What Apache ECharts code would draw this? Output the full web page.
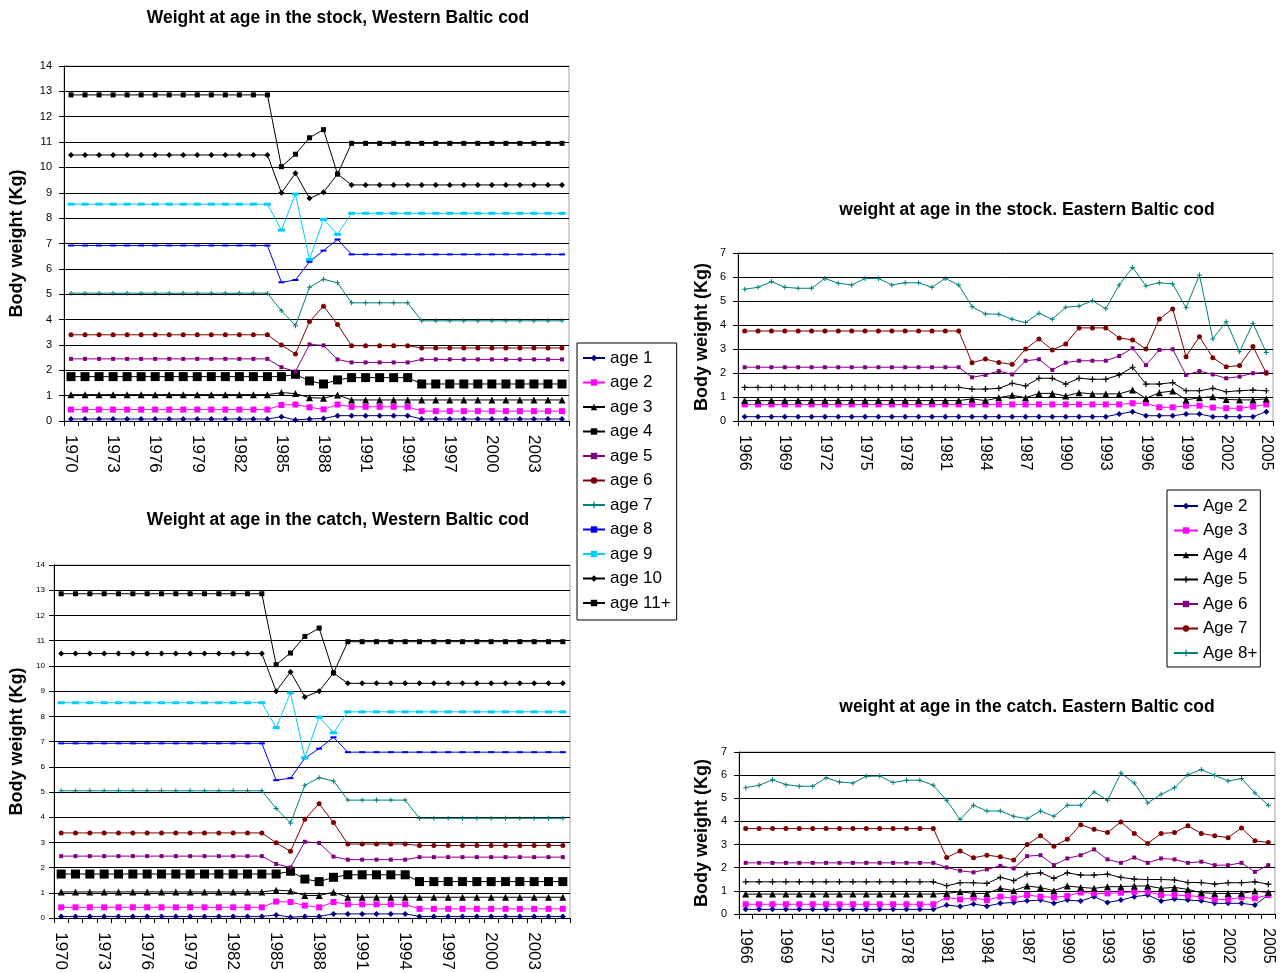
<!DOCTYPE html>
<html>
<head>
<meta charset="utf-8">
<script src="https://cdn.jsdelivr.net/npm/echarts@6/dist/echarts.min.js"></script>
<style>
html, body { margin: 0; padding: 0; background: #ffffff; }
#main { width: 1282px; height: 973px; }
</style>
</head>
<body>
<div id="main"></div>
<script>
// ---- Categories ----
const westYears = ['1970','1971','1972','1973','1974','1975','1976','1977','1978','1979',
  '1980','1981','1982','1983','1984','1985','1986','1987','1988','1989',
  '1990','1991','1992','1993','1994','1995','1996','1997','1998','1999',
  '2000','2001','2002','2003','2004','2005'];
const eastYears = ['1966','1967','1968','1969','1970','1971','1972','1973','1974','1975',
  '1976','1977','1978','1979','1980','1981','1982','1983','1984','1985',
  '1986','1987','1988','1989','1990','1991','1992','1993','1994','1995',
  '1996','1997','1998','1999','2000','2001','2002','2003','2004','2005'];

const westNames = ['age 1','age 2','age 3','age 4','age 5','age 6','age 7','age 8','age 9','age 10','age 11+'];
const eastNames = ['Age 2','Age 3','Age 4','Age 5','Age 6','Age 7','Age 8+'];

// ---- Western Baltic cod, weight at age in the stock (kg), 1970-2005 ----
const stockW1 = [0.08,0.08,0.08,0.08,0.08,0.08,0.08,0.08,0.08,0.08,0.08,0.08,0.08,0.08,0.08,
  0.17,0.04,0.08,0.10,0.21,0.21,0.21,0.21,0.21,0.21,
  0.08,0.08,0.08,0.08,0.08,0.08,0.08,0.08,0.08,0.08,0.08];
const stockW2 = [0.45,0.45,0.45,0.45,0.45,0.45,0.45,0.45,0.45,0.45,0.45,0.45,0.45,0.45,0.45,
  0.63,0.65,0.54,0.46,0.65,0.56,0.56,0.56,0.56,0.56,
  0.39,0.39,0.39,0.39,0.39,0.39,0.39,0.39,0.39,0.39,0.39];
const stockW3 = [1.04,1.04,1.04,1.04,1.04,1.04,1.04,1.04,1.04,1.04,1.04,1.04,1.04,1.04,1.04,
  1.12,1.08,0.92,0.90,1.03,0.83,0.83,0.83,0.83,0.83,
  0.83,0.83,0.83,0.83,0.83,0.83,0.83,0.83,0.83,0.83,0.83];
const stockW4 = [1.75,1.75,1.75,1.75,1.75,1.75,1.75,1.75,1.75,1.75,1.75,1.75,1.75,1.75,1.75,
  1.75,1.84,1.58,1.46,1.62,1.71,1.71,1.71,1.71,1.71,
  1.46,1.46,1.46,1.46,1.46,1.46,1.46,1.46,1.46,1.46,1.46];
const stockW5 = [2.45,2.45,2.45,2.45,2.45,2.45,2.45,2.45,2.45,2.45,2.45,2.45,2.45,2.45,2.45,
  2.12,1.95,3.02,2.98,2.43,2.31,2.31,2.31,2.31,2.31,
  2.43,2.43,2.43,2.43,2.43,2.43,2.43,2.43,2.43,2.43,2.43];
const stockW6 = [3.40,3.40,3.40,3.40,3.40,3.40,3.40,3.40,3.40,3.40,3.40,3.40,3.40,3.40,3.40,
  3.00,2.64,3.92,4.53,3.81,2.97,2.97,2.97,2.97,2.97,
  2.88,2.88,2.88,2.88,2.88,2.88,2.88,2.88,2.88,2.88,2.88];
const stockW7 = [5.04,5.04,5.04,5.04,5.04,5.04,5.04,5.04,5.04,5.04,5.04,5.04,5.04,5.04,5.04,
  4.35,3.76,5.27,5.59,5.45,4.66,4.66,4.66,4.66,4.66,
  3.95,3.95,3.95,3.95,3.95,3.95,3.95,3.95,3.95,3.95,3.95];
const stockW8 = [6.92,6.92,6.92,6.92,6.92,6.92,6.92,6.92,6.92,6.92,6.92,6.92,6.92,6.92,6.92,
  5.47,5.56,6.28,6.72,7.16,6.57,6.57,6.57,6.57,6.57,
  6.57,6.57,6.57,6.57,6.57,6.57,6.57,6.57,6.57,6.57,6.57];
const stockW9 = [8.55,8.55,8.55,8.55,8.55,8.55,8.55,8.55,8.55,8.55,8.55,8.55,8.55,8.55,8.55,
  7.53,8.95,6.37,7.95,7.36,8.19,8.19,8.19,8.19,8.19,
  8.19,8.19,8.19,8.19,8.19,8.19,8.19,8.19,8.19,8.19,8.19];
const stockW10 = [10.49,10.49,10.49,10.49,10.49,10.49,10.49,10.49,10.49,10.49,10.49,10.49,10.49,10.49,10.49,
  9.00,9.77,8.78,9.02,9.74,9.31,9.31,9.31,9.31,9.31,
  9.31,9.31,9.31,9.31,9.31,9.31,9.31,9.31,9.31,9.31,9.31];
const stockW11 = [12.86,12.86,12.86,12.86,12.86,12.86,12.86,12.86,12.86,12.86,12.86,12.86,12.86,12.86,12.86,
  10.03,10.52,11.17,11.49,9.74,10.95,10.95,10.95,10.95,10.95,
  10.95,10.95,10.95,10.95,10.95,10.95,10.95,10.95,10.95,10.95,10.95];

// ---- Western Baltic cod, weight at age in the catch (kg), 1970-2005 ----
const catchW1 = [0.07,0.07,0.07,0.07,0.07,0.07,0.07,0.07,0.07,0.07,0.07,0.07,0.07,0.07,0.07,
  0.13,0.04,0.07,0.07,0.17,0.17,0.17,0.17,0.17,0.17,
  0.07,0.07,0.07,0.07,0.07,0.07,0.07,0.07,0.07,0.07,0.07];
const catchW2 = [0.43,0.43,0.43,0.43,0.43,0.43,0.43,0.43,0.43,0.43,0.43,0.43,0.43,0.43,0.43,
  0.66,0.64,0.50,0.43,0.64,0.55,0.55,0.55,0.55,0.55,
  0.37,0.37,0.37,0.37,0.37,0.37,0.37,0.37,0.37,0.37,0.37];
const catchW3 = [1.04,1.04,1.04,1.04,1.04,1.04,1.04,1.04,1.04,1.04,1.04,1.04,1.04,1.04,1.04,
  1.11,1.08,0.90,0.90,1.03,0.83,0.83,0.83,0.83,0.83,
  0.83,0.83,0.83,0.83,0.83,0.83,0.83,0.83,0.83,0.83,0.83];
const catchW4 = [1.75,1.75,1.75,1.75,1.75,1.75,1.75,1.75,1.75,1.75,1.75,1.75,1.75,1.75,1.75,
  1.75,1.86,1.55,1.45,1.62,1.72,1.72,1.72,1.72,1.72,
  1.45,1.45,1.45,1.45,1.45,1.45,1.45,1.45,1.45,1.45,1.45];
const catchW5 = [2.46,2.46,2.46,2.46,2.46,2.46,2.46,2.46,2.46,2.46,2.46,2.46,2.46,2.46,2.46,
  2.15,2.01,3.03,2.98,2.44,2.32,2.32,2.32,2.32,2.32,
  2.42,2.42,2.42,2.42,2.42,2.42,2.42,2.42,2.42,2.42,2.42];
const catchW6 = [3.38,3.38,3.38,3.38,3.38,3.38,3.38,3.38,3.38,3.38,3.38,3.38,3.38,3.38,3.38,
  2.99,2.65,3.92,4.54,3.79,2.94,2.94,2.94,2.94,2.94,
  2.88,2.88,2.88,2.88,2.88,2.88,2.88,2.88,2.88,2.88,2.88];
const catchW7 = [5.05,5.05,5.05,5.05,5.05,5.05,5.05,5.05,5.05,5.05,5.05,5.05,5.05,5.05,5.05,
  4.35,3.77,5.27,5.57,5.44,4.68,4.68,4.68,4.68,4.68,
  3.96,3.96,3.96,3.96,3.96,3.96,3.96,3.96,3.96,3.96,3.96];
const catchW8 = [6.93,6.93,6.93,6.93,6.93,6.93,6.93,6.93,6.93,6.93,6.93,6.93,6.93,6.93,6.93,
  5.47,5.55,6.34,6.72,7.17,6.58,6.58,6.58,6.58,6.58,
  6.58,6.58,6.58,6.58,6.58,6.58,6.58,6.58,6.58,6.58,6.58];
const catchW9 = [8.54,8.54,8.54,8.54,8.54,8.54,8.54,8.54,8.54,8.54,8.54,8.54,8.54,8.54,8.54,
  7.55,8.93,6.36,7.97,7.35,8.18,8.18,8.18,8.18,8.18,
  8.18,8.18,8.18,8.18,8.18,8.18,8.18,8.18,8.18,8.18,8.18];
const catchW10 = [10.49,10.49,10.49,10.49,10.49,10.49,10.49,10.49,10.49,10.49,10.49,10.49,10.49,10.49,10.49,
  9.00,9.76,8.77,9.00,9.72,9.31,9.31,9.31,9.31,9.31,
  9.31,9.31,9.31,9.31,9.31,9.31,9.31,9.31,9.31,9.31,9.31];
const catchW11 = [12.86,12.86,12.86,12.86,12.86,12.86,12.86,12.86,12.86,12.86,12.86,12.86,12.86,12.86,12.86,
  10.05,10.51,11.17,11.50,9.72,10.96,10.96,10.96,10.96,10.96,
  10.96,10.96,10.96,10.96,10.96,10.96,10.96,10.96,10.96,10.96,10.96];

// ---- Eastern Baltic cod, weight at age in the stock (kg), 1966-2005 ----
const stockE2 = [0.18,0.18,0.18,0.18,0.18,0.18,0.18,0.18,0.18,0.18,0.18,0.18,0.18,0.18,0.18,0.18,0.18,0.18,0.18,0.18,
  0.18,0.18,0.18,0.18,0.18,0.18,0.18,0.18,0.29,0.39,0.22,0.22,0.22,0.29,0.29,0.18,0.18,0.18,0.18,0.39];
const stockE3 = [0.69,0.69,0.69,0.69,0.69,0.69,0.69,0.69,0.69,0.69,0.69,0.69,0.69,0.69,0.69,0.69,0.69,0.69,0.69,0.69,
  0.69,0.69,0.69,0.69,0.69,0.69,0.69,0.69,0.69,0.74,0.74,0.57,0.57,0.64,0.64,0.56,0.53,0.53,0.60,0.69];
const stockE4 = [0.85,0.85,0.85,0.85,0.85,0.85,0.85,0.85,0.85,0.85,0.85,0.85,0.85,0.85,0.85,0.85,0.85,0.92,0.85,0.97,
  1.07,0.97,1.15,1.15,1.04,1.18,1.13,1.13,1.13,1.29,0.94,1.18,1.25,0.88,0.97,1.01,0.90,0.88,0.88,0.92];
const stockE5 = [1.40,1.40,1.40,1.40,1.40,1.40,1.40,1.40,1.40,1.40,1.40,1.40,1.40,1.40,1.40,1.40,1.40,1.33,1.33,1.36,
  1.57,1.46,1.78,1.78,1.54,1.78,1.74,1.74,1.92,2.24,1.54,1.54,1.60,1.26,1.26,1.36,1.22,1.26,1.29,1.26];
const stockE6 = [2.24,2.24,2.24,2.24,2.24,2.24,2.24,2.24,2.24,2.24,2.24,2.24,2.24,2.24,2.24,2.24,2.24,1.82,1.92,2.08,
  1.94,2.51,2.57,2.13,2.43,2.51,2.51,2.51,2.71,3.03,2.33,2.96,2.99,1.92,2.08,1.94,1.78,1.85,1.99,2.03];
const stockE7 = [3.75,3.75,3.75,3.75,3.75,3.75,3.75,3.75,3.75,3.75,3.75,3.75,3.75,3.75,3.75,3.75,3.75,2.43,2.58,2.44,
  2.36,3.00,3.42,2.96,3.21,3.88,3.88,3.88,3.46,3.38,3.00,4.25,4.67,2.68,3.51,2.64,2.26,2.31,3.10,1.99];
const stockE8 = [5.49,5.57,5.81,5.57,5.53,5.53,5.94,5.74,5.67,5.94,5.94,5.67,5.76,5.76,5.57,5.94,5.67,4.76,4.46,4.45,
  4.24,4.10,4.49,4.24,4.74,4.79,5.01,4.68,5.67,6.40,5.63,5.76,5.71,4.72,6.08,3.42,4.14,2.89,4.07,2.85];

// ---- Eastern Baltic cod, weight at age in the catch (kg), 1966-2005 ----
const catchE2 = [0.20,0.20,0.20,0.20,0.20,0.20,0.20,0.20,0.20,0.20,0.20,0.20,0.20,0.20,0.20,0.39,0.32,0.43,0.34,0.46,
  0.50,0.57,0.60,0.46,0.60,0.56,0.75,0.50,0.60,0.75,0.82,0.56,0.65,0.60,0.57,0.46,0.46,0.46,0.39,0.82];
const catchE3 = [0.42,0.42,0.42,0.42,0.42,0.42,0.42,0.42,0.42,0.42,0.42,0.42,0.42,0.42,0.42,0.72,0.63,0.70,0.60,0.75,
  0.68,0.82,0.75,0.72,0.78,0.93,0.89,0.89,0.92,0.96,0.96,0.82,0.82,0.79,0.75,0.63,0.63,0.72,0.68,0.82];
const catchE4 = [0.86,0.86,0.86,0.86,0.86,0.86,0.86,0.86,0.86,0.86,0.86,0.86,0.86,0.86,0.86,0.89,0.96,0.89,0.89,1.11,
  1.01,1.21,1.14,1.01,1.21,1.15,1.11,1.18,1.18,1.21,1.21,1.11,1.15,1.06,0.92,0.89,0.89,0.89,0.99,0.93];
const catchE5 = [1.39,1.39,1.39,1.39,1.39,1.39,1.39,1.39,1.39,1.39,1.39,1.39,1.39,1.39,1.39,1.22,1.35,1.35,1.32,1.58,
  1.44,1.72,1.78,1.54,1.78,1.68,1.68,1.72,1.58,1.51,1.49,1.49,1.47,1.36,1.36,1.29,1.35,1.35,1.39,1.29];
const catchE6 = [2.21,2.21,2.21,2.21,2.21,2.21,2.21,2.21,2.21,2.21,2.21,2.21,2.21,2.21,2.21,2.01,1.87,1.80,1.93,2.08,
  1.97,2.50,2.54,2.11,2.40,2.54,2.79,2.36,2.21,2.44,2.21,2.40,2.36,2.21,2.26,2.11,2.11,2.21,1.82,2.11];
const catchE7 = [3.69,3.69,3.69,3.69,3.69,3.69,3.69,3.69,3.69,3.69,3.69,3.69,3.69,3.69,3.69,2.44,2.72,2.43,2.54,2.47,
  2.33,3.00,3.38,2.93,3.23,3.86,3.66,3.52,3.98,3.48,3.05,3.48,3.52,3.81,3.48,3.38,3.30,3.72,3.16,3.09];
const catchE8 = [5.46,5.56,5.80,5.59,5.52,5.52,5.89,5.70,5.66,5.95,5.96,5.68,5.78,5.78,5.56,4.91,4.08,4.70,4.45,4.45,
  4.22,4.12,4.45,4.22,4.70,4.70,5.27,4.91,6.09,5.66,4.80,5.17,5.45,6.02,6.24,5.99,5.75,5.85,5.23,4.70];

// ---- Styling ----
const FONT = '"Liberation Sans", Arial, sans-serif';
const PLUS = 'path://M4,0H6V4H10V6H6V10H4V6H0V4H4Z';

// marker / colour per western age class
const westStyle = [
  { color: '#000080', symbol: 'diamond', size: 6 },
  { color: '#FF00FF', symbol: 'rect', size: 6 },
  { color: '#000000', symbol: 'triangle', size: 7 },
  { color: '#000000', symbol: 'rect', size: 9 },
  { color: '#800080', symbol: 'rect', size: 4 },
  { color: '#800000', symbol: 'circle', size: 5 },
  { color: '#008080', symbol: PLUS, size: 5 },
  { color: '#0000FF', symbol: 'rect', size: [6, 2] },
  { color: '#00CCFF', symbol: 'rect', size: [7, 3] },
  { color: '#000000', symbol: 'diamond', size: 6 },
  { color: '#000000', symbol: 'rect', size: 5 }
];
const eastStyle = [
  { color: '#000080', symbol: 'diamond', size: 6 },
  { color: '#FF00FF', symbol: 'rect', size: 6 },
  { color: '#000000', symbol: 'triangle', size: 7 },
  { color: '#000000', symbol: PLUS, size: 6 },
  { color: '#800080', symbol: 'rect', size: 4 },
  { color: '#800000', symbol: 'circle', size: 5 },
  { color: '#008080', symbol: PLUS, size: 5 }
];

const westStock = [stockW1, stockW2, stockW3, stockW4, stockW5, stockW6, stockW7, stockW8, stockW9, stockW10, stockW11];
const westCatch = [catchW1, catchW2, catchW3, catchW4, catchW5, catchW6, catchW7, catchW8, catchW9, catchW10, catchW11];
const eastStock = [stockE2, stockE3, stockE4, stockE5, stockE6, stockE7, stockE8];
const eastCatch = [catchE2, catchE3, catchE4, catchE5, catchE6, catchE7, catchE8];

function makeSeries(names, styles, values, idx) {
  return names.map((name, i) => ({
    name: name,
    type: 'line',
    xAxisIndex: idx,
    yAxisIndex: idx,
    data: values[i],
    symbol: styles[i].symbol,
    symbolSize: styles[i].size,
    showAllSymbol: true,
    lineStyle: { color: styles[i].color, width: 1 },
    itemStyle: { color: styles[i].color },
    emphasis: { disabled: true },
    animation: false
  }));
}

function xAxis(idx, cats, fontSize) {
  return {
    type: 'category', gridIndex: idx, data: cats, boundaryGap: true,
    axisLine: { lineStyle: { color: '#000', width: 1 } },
    axisTick: { show: true, interval: 0, length: 5, lineStyle: { color: '#000' } },
    axisLabel: { interval: 2, rotate: -90, margin: 14, color: '#000', fontSize: fontSize, fontFamily: FONT },
    splitLine: { show: false }
  };
}
function yAxis(idx, max, labelSize, labelMargin, nameGap) {
  return {
    type: 'value', gridIndex: idx, min: 0, max: max, interval: 1,
    name: 'Body weight (Kg)',
    nameLocation: 'middle', nameRotate: 90, nameGap: nameGap,
    nameTextStyle: { fontSize: 18, fontWeight: 'bold', color: '#000', fontFamily: FONT },
    axisLine: { show: true, lineStyle: { color: '#000', width: 1 } },
    axisTick: { show: true, length: 5, lineStyle: { color: '#000' } },
    axisLabel: { color: '#000', fontSize: labelSize, margin: labelMargin, fontFamily: FONT },
    splitLine: { show: true, lineStyle: { color: '#000', width: 1 } }
  };
}

function title(text, x, y) {
  return {
    type: 'text', x: x, y: y,
    style: { text: text, textAlign: 'center', textVerticalAlign: 'middle',
      font: 'bold 17.5px ' + FONT, fill: '#000' }
  };
}

const chart = echarts.init(document.getElementById('main'), null, { renderer: 'canvas' });
chart.setOption({
  animation: false,
  backgroundColor: '#ffffff',
  grid: [
    { left: 64, top: 66, width: 505, height: 355, show: true, borderColor: '#a0a0a0', borderWidth: 1 },
    { left: 54, top: 565, width: 516, height: 354, show: true, borderColor: '#a0a0a0', borderWidth: 1 },
    { left: 738, top: 253, width: 535, height: 168, show: true, borderColor: '#a0a0a0', borderWidth: 1 },
    { left: 739, top: 752, width: 536, height: 162, show: true, borderColor: '#a0a0a0', borderWidth: 1 }
  ],
  xAxis: [
    xAxis(0, westYears, 17),
    xAxis(1, westYears, 17),
    xAxis(2, eastYears, 16),
    xAxis(3, eastYears, 16)
  ],
  yAxis: [
    yAxis(0, 14, 11, 12, 38),
    yAxis(1, 14, 8, 9, 28),
    yAxis(2, 7, 11, 12, 27),
    yAxis(3, 7, 11, 12, 28)
  ],
  legend: [
    {
      data: westNames, orient: 'vertical', left: 577, top: 343,
      padding: [6.5, 6, 8.5, 5], itemWidth: 22, itemHeight: 8, itemGap: 7.5,
      borderColor: '#000', borderWidth: 1, backgroundColor: '#fff',
      selectedMode: false,
      textStyle: { fontSize: 17, lineHeight: 17, color: '#000', fontFamily: FONT }
    },
    {
      data: eastNames, orient: 'vertical', left: 1167, top: 490,
      padding: [7.5, 3, 5.5, 6], itemWidth: 24, itemHeight: 8, itemGap: 7.5,
      borderColor: '#000', borderWidth: 1, backgroundColor: '#fff',
      selectedMode: false,
      textStyle: { fontSize: 17, lineHeight: 17, color: '#000', fontFamily: FONT }
    }
  ],
  graphic: [
    title('Weight at age in the stock, Western Baltic cod', 338, 18),
    title('Weight at age in the catch, Western Baltic cod', 338, 520),
    title('weight at age in the stock. Eastern Baltic cod', 1027, 210),
    title('weight at age in the catch. Eastern Baltic cod', 1027, 707)
  ],
  series: [].concat(
    makeSeries(westNames, westStyle, westStock, 0),
    makeSeries(westNames, westStyle, westCatch, 1),
    makeSeries(eastNames, eastStyle, eastStock, 2),
    makeSeries(eastNames, eastStyle, eastCatch, 3)
  )
});
</script>
</body>
</html>
